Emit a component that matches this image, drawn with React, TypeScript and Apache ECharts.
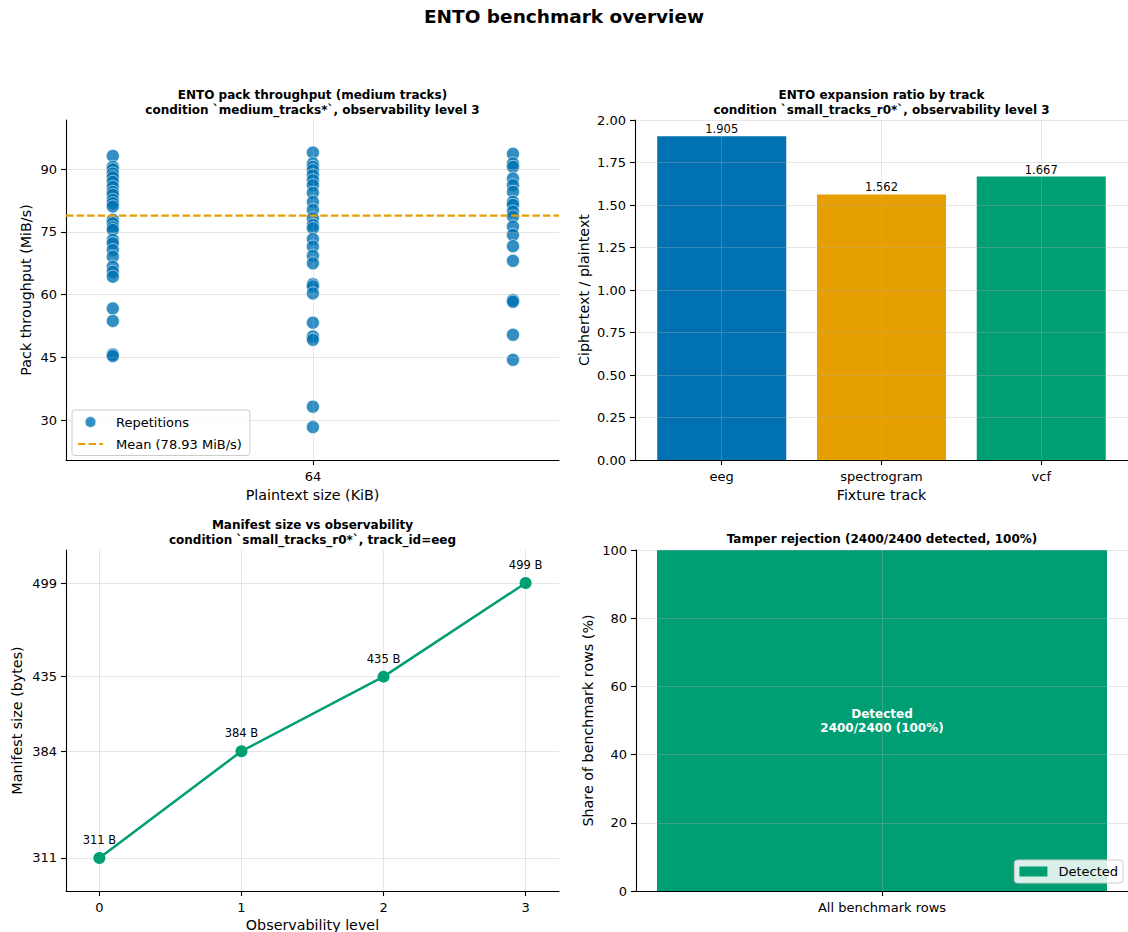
import React, { useEffect, useRef } from "react";
import * as echarts from "echarts";

const FONT = "DejaVu Sans";

// ---------- Panel 1: pack throughput scatter ----------
const throughputGroupX = [63, 64, 65];
const throughputXTicks = [64];
const throughputGroup1 = [93.2, 90.6, 90.0, 89.0, 88.1, 87.0, 85.8, 84.6, 83.9, 82.7, 81.9, 81.1, 77.9, 77.1, 76.1, 75.5, 73.1, 72.3, 70.7, 69.1, 66.7, 65.5, 64.3, 56.7, 53.7, 45.7, 45.3];
const throughputGroup2 = [94.0, 91.4, 90.6, 89.8, 88.6, 87.4, 86.2, 84.4, 82.2, 80.3, 78.3, 76.7, 75.9, 73.3, 71.5, 69.3, 67.5, 62.5, 62.0, 60.3, 53.3, 50.0, 49.2, 33.2, 28.3];
const throughputGroup3 = [93.7, 91.4, 90.6, 87.8, 86.2, 84.6, 82.2, 81.5, 79.9, 78.7, 76.3, 74.3, 71.6, 68.1, 58.7, 58.3, 50.4, 44.4];
const throughputMean = 78.93;
const throughputYTicks = [30, 45, 60, 75, 90];

// ---------- Panel 2: expansion ratio ----------
const tracks = ["eeg", "spectrogram", "vcf"];
const expansionRatio = [1.905, 1.562, 1.667];
const trackColors = ["#0072B2", "#E69F00", "#009E73"];

// ---------- Panel 3: manifest size ----------
const observabilityLevels = [0, 1, 2, 3];
const manifestBytes = [311, 384, 435, 499];

// ---------- Panel 4: tamper rejection ----------
const tamperCategories = ["All benchmark rows"];
const tamperDetected = [2400];
const tamperTotal = [2400];
const shareTicks = [0, 20, 40, 60, 80, 100];

const GREEN = "#009E73";

const tickStyle = (custom?: number[]) => ({
  show: true,
  length: 5,
  lineStyle: { color: "#000", width: 1.1 },
  ...(custom ? { customValues: custom } : {}),
});

const labelStyle = (margin: number, extra: any = {}) => ({
  color: "#000",
  fontSize: 13,
  fontFamily: FONT,
  margin,
  ...extra,
});

function axisBase(extra: any) {
  return {
    axisLine: { show: true, onZero: false, lineStyle: { color: "#000", width: 1.1 } },
    axisTick: tickStyle(),
    axisLabel: labelStyle(8),
    nameTextStyle: { color: "#000", fontSize: 14.3, fontFamily: FONT },
    nameLocation: "middle",
    splitLine: { show: true, lineStyle: { color: "rgba(176,176,176,0.32)", width: 1 } },
    ...extra,
  };
}

export default function App() {
  const ref = useRef<HTMLDivElement>(null);

  useEffect(() => {
    if (!ref.current) return;
    const chart = echarts.init(ref.current, undefined, { renderer: "svg" });

    const scatterData: number[][] = [];
    [throughputGroup1, throughputGroup2, throughputGroup3].forEach((g, i) => {
      g.forEach((v) => scatterData.push([throughputGroupX[i], v]));
    });
    const xMin1 = 62.766;
    const xMax1 = 65.23;

    const share = tamperDetected.map((d, i) => (d / tamperTotal[i]) * 100);
    const meanLabel = `Mean (${throughputMean.toFixed(2)} MiB/s)`;
    const trackIdx = tracks.map((_, i) => i);
    const tamperIdx = tamperCategories.map((_, i) => i);

    const titleText = (text: string, x: number, y: number, size = 12) => ({
      type: "text",
      x,
      y,
      style: {
        text,
        fill: "#000",
        fontFamily: FONT,
        fontWeight: "bold",
        fontSize: size,
        lineHeight: size * 1.2,
        align: "center",
        verticalAlign: "top",
      },
    });

    const option: any = {
      animation: false,
      textStyle: { fontFamily: FONT },
      graphic: [
        titleText("ENTO benchmark overview", 564, 5, 18.5),
        titleText("ENTO pack throughput (medium tracks)\ncondition `medium_tracks*`, observability level 3", 312.5, 88),
        titleText("ENTO expansion ratio by track\ncondition `small_tracks_r0*`, observability level 3", 881.5, 88),
        titleText("Manifest size vs observability\ncondition `small_tracks_r0*`, track_id=eeg", 312.5, 518),
        titleText(`Tamper rejection (${tamperDetected[0]}/${tamperTotal[0]} detected, ${share[0].toFixed(0)}%)`, 882, 532),
      ],
      grid: [
        { left: 66, top: 120, width: 493, height: 340, outerBoundsMode: "none" },
        { left: 635, top: 120, width: 493, height: 340, outerBoundsMode: "none" },
        { left: 66, top: 550, width: 493, height: 341, outerBoundsMode: "none" },
        { left: 636, top: 550, width: 492, height: 341, outerBoundsMode: "none" },
      ],
      legend: [
        {
          data: ["Repetitions", { name: meanLabel, itemStyle: { opacity: 0 } }],
          orient: "vertical",
          left: 72,
          top: 410,
          padding: [5, 8, 5, 5],
          itemGap: 8.5,
          itemWidth: 25,
          itemHeight: 12,
          borderColor: "#cccccc",
          borderWidth: 1,
          borderRadius: 3,
          backgroundColor: "rgba(255,255,255,0.8)",
          textStyle: { fontSize: 13, color: "#000", fontFamily: FONT, padding: [0, 0, 0, 8] },
        },
        {
          data: ["Detected"],
          right: 5,
          top: 860,
          padding: [5, 5, 5, 5],
          itemWidth: 28,
          itemHeight: 10,
          icon: "rect",
          borderColor: "#cccccc",
          borderWidth: 1,
          borderRadius: 3,
          backgroundColor: "rgba(255,255,255,0.85)",
          textStyle: { fontSize: 13, color: "#000", fontFamily: FONT, padding: [0, 0, 0, 6] },
        },
      ],
      xAxis: [
        axisBase({
          gridIndex: 0,
          type: "value",
          min: xMin1,
          max: xMax1,
          z: 3,
          name: "Plaintext size (KiB)",
          nameGap: 28,
          axisLabel: labelStyle(10, { customValues: throughputXTicks, formatter: (v: number) => String(v) }),
          axisTick: tickStyle(throughputXTicks),
        }),
        axisBase({
          gridIndex: 1,
          type: "value",
          min: -0.543,
          max: 2.543,
          z: 3,
          name: "Fixture track",
          nameGap: 28,
          axisLabel: labelStyle(10, { customValues: trackIdx, formatter: (v: number) => tracks[Math.round(v)] ?? "" }),
          axisTick: tickStyle(trackIdx),
        }),
        axisBase({
          gridIndex: 2,
          type: "value",
          min: -0.235,
          max: 3.235,
          name: "Observability level",
          nameGap: 27,
          axisLabel: labelStyle(10, { customValues: observabilityLevels, formatter: (v: number) => String(v) }),
          axisTick: tickStyle(observabilityLevels),
        }),
        axisBase({
          gridIndex: 3,
          type: "value",
          min: -0.44,
          max: 0.44,
          z: 3,
          axisLabel: labelStyle(10, { customValues: tamperIdx, formatter: (v: number) => tamperCategories[Math.round(v)] ?? "" }),
          axisTick: tickStyle(tamperIdx),
        }),
      ],
      yAxis: [
        axisBase({
          gridIndex: 0,
          type: "value",
          min: 20.43,
          max: 101.8,
          z: 3,
          name: "Pack throughput (MiB/s)",
          nameGap: 33,
          axisLabel: labelStyle(9, { customValues: throughputYTicks }),
          axisTick: tickStyle(throughputYTicks),
        }),
        axisBase({
          gridIndex: 1,
          type: "value",
          min: 0,
          max: 2,
          interval: 0.25,
          z: 3,
          name: "Ciphertext / plaintext",
          nameGap: 44,
          axisLabel: labelStyle(9, { formatter: (v: number) => v.toFixed(2) }),
        }),
        axisBase({
          gridIndex: 2,
          type: "value",
          min: 288.4,
          max: 521.6,
          name: "Manifest size (bytes)",
          nameGap: 42,
          axisLabel: labelStyle(9, { customValues: manifestBytes }),
          axisTick: tickStyle(manifestBytes),
        }),
        axisBase({
          gridIndex: 3,
          type: "value",
          min: 0,
          max: 100,
          interval: 20,
          z: 3,
          name: "Share of benchmark rows (%)",
          nameGap: 41,
          axisLabel: labelStyle(9, { customValues: shareTicks }),
          axisTick: tickStyle(shareTicks),
        }),
      ],
      series: [
        {
          name: "Repetitions",
          type: "scatter",
          xAxisIndex: 0,
          yAxisIndex: 0,
          data: scatterData,
          symbol: "circle",
          symbolSize: 13,
          itemStyle: { color: "#0072B2", opacity: 0.8, borderColor: "#ffffff", borderWidth: 0.7 },
        },
        {
          name: meanLabel,
          type: "line",
          xAxisIndex: 0,
          yAxisIndex: 0,
          data: [
            [xMin1, throughputMean],
            [xMax1, throughputMean],
          ],
          symbol: "none",
          z: 4,
          lineStyle: { color: "#E69F00", width: 2.2, type: [7.4, 3.2] },
          itemStyle: { color: "#E69F00" },
        },
        {
          name: "Expansion",
          type: "bar",
          xAxisIndex: 1,
          yAxisIndex: 1,
          barWidth: 129,
          data: expansionRatio.map((v, i) => ({ value: [i, v], itemStyle: { color: trackColors[i] } })),
          label: {
            show: true,
            position: "top",
            distance: 1,
            color: "#000",
            fontSize: 11.5,
            fontFamily: FONT,
            formatter: (p: any) => p.value[1].toFixed(3),
          },
        },
        {
          name: "Manifest",
          type: "line",
          xAxisIndex: 2,
          yAxisIndex: 2,
          data: observabilityLevels.map((l, i) => [l, manifestBytes[i]]),
          symbol: "circle",
          symbolSize: 12,
          lineStyle: { color: GREEN, width: 2.5 },
          itemStyle: { color: GREEN },
          label: {
            show: true,
            position: "top",
            distance: 6,
            color: "#000",
            fontSize: 11.5,
            fontFamily: FONT,
            formatter: (p: any) => `${p.value[1]} B`,
          },
        },
        {
          name: "Detected",
          type: "bar",
          xAxisIndex: 3,
          yAxisIndex: 3,
          barWidth: 450,
          data: share.map((v, i) => [i, v]),
          itemStyle: { color: GREEN },
          label: {
            show: true,
            position: "inside",
            color: "#fff",
            fontWeight: "bold",
            fontSize: 12,
            lineHeight: 14,
            fontFamily: FONT,
            formatter: () => `Detected\n${tamperDetected[0]}/${tamperTotal[0]} (${share[0].toFixed(0)}%)`,
          },
        },
      ],
    };

    chart.setOption(option);
    return () => chart.dispose();
  }, []);

  return <div ref={ref} style={{ position: "absolute", left: 0, top: 0, width: 1128, height: 932 }} />;
}
